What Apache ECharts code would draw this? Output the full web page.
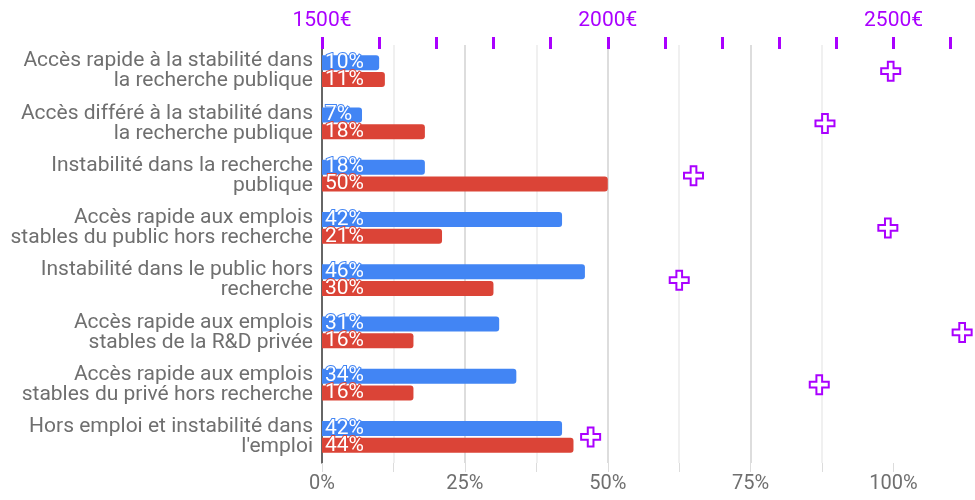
<!DOCTYPE html>
<html>
<head>
<meta charset="utf-8">
<script src="https://cdn.jsdelivr.net/npm/echarts@6/dist/echarts.min.js"></script>
<style>
  html, body { margin: 0; padding: 0; background: #fff; }
  #chart { width: 975px; height: 500px; }
</style>
</head>
<body>
<div id="chart"></div>
<script>
const categories = [
  'Accès rapide à la stabilité dans\nla recherche publique',
  'Accès différé à la stabilité dans\nla recherche publique',
  'Instabilité dans la recherche\npublique',
  'Accès rapide aux emplois\nstables du public hors recherche',
  'Instabilité dans le public hors\nrecherche',
  'Accès rapide aux emplois\nstables de la R&D privée',
  'Accès rapide aux emplois\nstables du privé hors recherche',
  'Hors emploi et instabilité dans\nl\'emploi'
]
const bluePct = [10, 7, 18, 42, 46, 31, 34, 42]
const redPct = [11, 18, 50, 21, 30, 16, 16, 44]
const salary = [2495, 2380, 2150, 2490, 2125, 2620, 2370, 1970]

const pctTicks = [0, 12.5, 25, 37.5, 50, 62.5, 75, 87.5, 100]
const pctLabels = [0, 25, 50, 75, 100]
const euroTicks = [1500, 1600, 1700, 1800, 1900, 2000, 2100, 2200, 2300, 2400, 2500, 2600]
const euroLabels = [1500, 2000, 2500]

const BLUE = '#4285f4'
const RED = '#db4437'
const PURPLE = '#aa00ff'
const GREY = '#6f6f6f'
const FONT = 'Roboto'

// major lines every 25 %, lighter ones in between
const MAJ = '#d2d2d2', MIN = '#ebebeb'
const gridColors = ['transparent', MIN, MAJ, MIN, MAJ, MIN, MAJ, MIN, MAJ, 'transparent']

const cross = 'path://M7,0H13V7H20V13H13V20H7V13H0V7H7Z'

const chart = echarts.init(document.getElementById('chart'), null, { renderer: 'canvas' })

const barLabel = (color) => ({
  show: true,
  position: 'insideLeft',
  distance: 3,
  formatter: '{c}%',
  color: '#fff',
  fontFamily: FONT,
  fontSize: 21,
  textBorderColor: color,
  textBorderWidth: 2
})

chart.setOption({
  animation: false,
  grid: { left: 322, right: 10, top: 45, bottom: 37, containLabel: false },
  xAxis: [
    {
      type: 'value',
      position: 'bottom',
      min: 0,
      max: 112.5,
      interval: 12.5,
      axisLine: { show: false },
      axisTick: { show: true, customValues: pctTicks, length: 9, lineStyle: { color: '#dcdcdc' } },
      axisLabel: {
        customValues: pctLabels,
        formatter: '{value}%',
        color: GREY,
        fontFamily: FONT,
        fontSize: 20,
        margin: 11
      },
      splitLine: { show: true, showMaxLine: false, lineStyle: { color: gridColors, width: 1.5 } }
    },
    {
      type: 'value',
      position: 'top',
      min: 1500,
      max: 2625,
      interval: 100,
      offset: -4,
      axisLine: { show: false },
      axisTick: {
        show: true,
        customValues: euroTicks,
        length: 12,
        lineStyle: { color: PURPLE, width: 3 }
      },
      axisLabel: {
        customValues: euroLabels,
        formatter: (v) => v + '€',
        color: PURPLE,
        fontFamily: FONT,
        fontSize: 21,
        margin: 18
      },
      splitLine: { show: false }
    }
  ],
  yAxis: {
    type: 'category',
    data: categories,
    inverse: true,
    axisLine: { show: true, lineStyle: { color: '#333', width: 1.5 } },
    axisTick: { show: false },
    axisLabel: {
      color: GREY,
      fontFamily: FONT,
      fontSize: 21,
      lineHeight: 20,
      margin: 9,
      align: 'right',
      padding: [3, 0, 0, 0]
    }
  },
  series: [
    {
      type: 'bar',
      xAxisIndex: 0,
      data: bluePct,
      barWidth: 15,
      barGap: '13%',
      itemStyle: { color: BLUE, borderRadius: [0, 3, 3, 0] },
      label: barLabel(BLUE)
    },
    {
      type: 'bar',
      xAxisIndex: 0,
      data: redPct,
      barWidth: 15,
      barGap: '13%',
      itemStyle: { color: RED, borderRadius: [0, 3, 3, 0] },
      label: barLabel(RED)
    },
    {
      type: 'scatter',
      xAxisIndex: 1,
      data: salary.map((v, i) => [v, i]),
      symbol: cross,
      symbolSize: 19,
      itemStyle: { color: '#fff', borderColor: PURPLE, borderWidth: 2, opacity: 1 },
      z: 5
    }
  ]
})
</script>
</body>
</html>
